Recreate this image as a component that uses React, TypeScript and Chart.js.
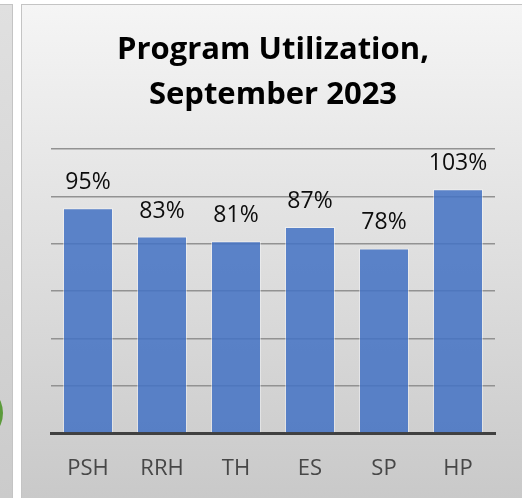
import React, { useEffect, useRef } from "react";
import { Chart, registerables } from "chart.js";

Chart.register(...registerables);

const categories = ["PSH", "RRH", "TH", "ES", "SP", "HP"];
const utilization = [95, 83, 81, 87, 78, 103];
const titleLines = ["Program Utilization,", "September 2023"];
const yTicks = [0, 20, 40, 60, 80, 100, 120];

const W = 501;
const H = 494;

const dataLabelPlugin = {
  id: "dataLabels",
  afterDatasetsDraw(chart: any) {
    const ctx = chart.ctx;
    const meta = chart.getDatasetMeta(0);
    ctx.save();
    ctx.font = "23px 'Open Sans'";
    ctx.fillStyle = "#0d0d0d";
    ctx.textAlign = "center";
    ctx.textBaseline = "alphabetic";
    meta.data.forEach((bar: any, i: number) => {
      const v = chart.data.datasets[0].data[i];
      ctx.fillText(v + "%", bar.x, bar.y - 19);
    });
    ctx.restore();
  },
};

export default function App() {
  const ref = useRef<HTMLCanvasElement>(null);
  useEffect(() => {
    if (!ref.current) return;
    const chart = new Chart(ref.current, {
      type: "bar",
      data: {
        labels: categories,
        datasets: [
          {
            data: utilization,
            backgroundColor: "rgba(68,114,196,0.86)",
            borderColor: "rgba(255,255,255,0.45)",
            borderWidth: 1,
            barPercentage: 0.676,
            categoryPercentage: 1,
          },
        ],
      },
      options: {
        animation: false,
        responsive: false,
        devicePixelRatio: 1,
        layout: { padding: { left: 30, right: 27, top: 0, bottom: 0 } },
        plugins: {
          legend: { display: false },
          tooltip: { enabled: false },
          title: {
            display: true,
            text: titleLines,
            color: "#000000",
            font: { family: "'Open Sans'", size: 31, weight: "bold", lineHeight: 45 / 31 },
            padding: { top: 24, bottom: 31 },
          },
        },
        scales: {
          x: {
            z: 1,
            grid: { display: false, drawTicks: false },
            border: { display: true, color: "#404040", width: 3 },
            ticks: {
              color: "#474747",
              padding: 23,
              font: { family: "'Open Sans'", size: 22 },
            },
            afterFit: (s: any) => {
              s.height = 65;
            },
          },
          y: {
            min: 0,
            max: 120,
            afterBuildTicks: (s: any) => {
              s.ticks = yTicks.map((v) => ({ value: v }));
            },
            grid: { color: "#929292", lineWidth: 1.5, drawTicks: false },
            border: { display: false },
            ticks: { display: false },
            afterFit: (s: any) => {
              s.width = 0;
            },
          },
        },
      },
      plugins: [dataLabelPlugin],
    });
    return () => chart.destroy();
  }, []);

  return (
    <div style={{ position: "fixed", left: 0, top: 0, width: 522, height: 498, background: "#ffffff", overflow: "hidden" }}>
      <div
        style={{
          position: "absolute",
          left: 0,
          top: 4,
          width: 13,
          height: 494,
          boxSizing: "border-box",
          borderTop: "1px solid #c4c4c4",
          borderRight: "1px solid #c4c4c4",
          background: "linear-gradient(to bottom, #e0e0e0, #cbcbcb)",
        }}
      />
      <div
        style={{
          position: "absolute",
          left: -57,
          top: 383,
          width: 60,
          height: 60,
          borderRadius: "50%",
          background: "#5c9b3b",
        }}
      />
      <div
        style={{
          position: "absolute",
          left: 21,
          top: 4,
          width: W,
          height: H,
          boxSizing: "border-box",
          borderTop: "1px solid #c4c4c4",
          borderLeft: "1px solid #c4c4c4",
          background: "linear-gradient(to bottom, #f5f5f5, #c9c9c9)",
        }}
      />
      <canvas
        ref={ref}
        width={W}
        height={H}
        style={{ position: "absolute", left: 21, top: 4, width: W, height: H }}
      />
    </div>
  );
}
